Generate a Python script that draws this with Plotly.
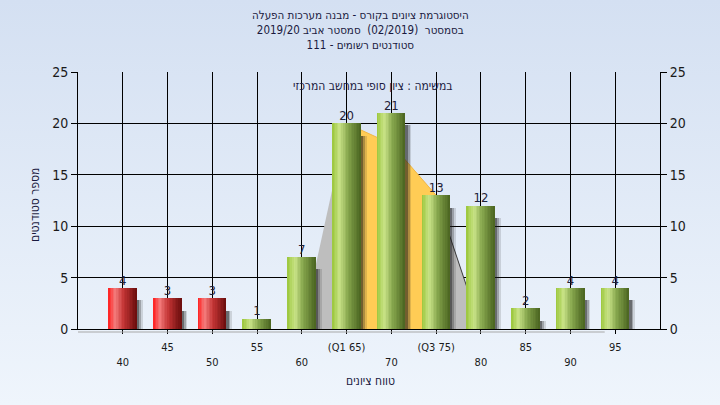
import base64
import plotly.graph_objects as go

# ---------------- data ----------------
categories = ["40", "45", "50", "55", "60", "65", "70", "75", "80", "85", "90", "95"]
counts = [4, 3, 3, 1, 7, 20, 21, 13, 12, 2, 4, 4]
tick_labels = ["40", "45", "50", "55", "60", "(Q1 65)", "70", "(Q3 75)", "80", "85", "90", "95"]
failing = [True, True, True, False, False, False, False, False, False, False, False, False]

# distribution curve drawn behind the bars
curve_x = ["60", "65", "70", "75", "80"]
curve_y = [0, 20, 18, 13, 0]
iqr_x = ["65", "70", "75"]
iqr_y = [20, 18, 13]
tail_x = ["75", "80"]
tail_y = [13, 0]

title_lines = ["היסטוגרמת ציונים בקורס - מבנה מערכות הפעלה",
               "בסמסטר  (02/2019)  סמסטר אביב 2019/20",
               "סטודנטים רשומים - 111"]
note_text = "במשימה : ציון סופי במחשב המרכזי"
x_title = "טווח ציונים"
y_title = "מספר סטודנטים"

FONT = "Liberation Sans Narrow, DejaVu Sans Condensed, Arial Narrow, sans-serif"

# ---------------- geometry of the canvas ----------------
W, H = 720, 405
ML, MR, MT, MB = 78, 60, 72, 76
PW, PH = W - ML - MR, H - MT - MB


def hex2rgb(h):
    h = h.lstrip("#")
    return tuple(int(h[i:i + 2], 16) for i in (0, 2, 4))


def interp(stops, t):
    for (t0, c0), (t1, c1) in zip(stops, stops[1:]):
        if t0 <= t <= t1:
            f = (t - t0) / (t1 - t0) if t1 > t0 else 0
            a, b = hex2rgb(c0), hex2rgb(c1)
            return "rgb(%d,%d,%d)" % tuple(round(a[k] + (b[k] - a[k]) * f) for k in range(3))
    return stops[-1][1]


green_stops = [(0.0, "#9AC63A"), (0.27, "#C9E388"), (0.55, "#88A84E"), (1.0, "#4A6420")]
red_stops = [(0.0, "#FF1C1C"), (0.24, "#F47A7A"), (0.55, "#C23434"), (1.0, "#6A0D0D")]

fig = go.Figure()

# distribution area (base subplot, under the bars)
fig.add_trace(go.Scatter(x=curve_x, y=curve_y, mode="lines", fill="tozeroy",
                         fillcolor="#BEBEBE", line=dict(width=0), hoverinfo="skip",
                         showlegend=False))
fig.add_trace(go.Scatter(x=iqr_x, y=iqr_y, mode="lines", fill="tozeroy",
                         fillcolor="#FFCC55", line=dict(width=1, color="#F2B845"),
                         hoverinfo="skip", showlegend=False))
fig.add_trace(go.Scatter(x=tail_x, y=tail_y, mode="lines",
                         line=dict(width=1, color="#3A3A3A"), hoverinfo="skip",
                         showlegend=False))
# invisible trace for the right-hand axis
fig.add_trace(go.Scatter(x=categories[:1], y=[0], yaxis="y2", mode="markers",
                         marker=dict(opacity=0), hoverinfo="skip", showlegend=False))

BW = 0.63
# soft shadows (overlay subplot)
for shift, alpha in [(0.13, 0.14), (0.09, 0.25), (0.05, 0.40)]:
    fig.add_trace(go.Bar(x=categories, y=[v - 0.2 for v in counts], base=-1,
                         width=BW, offset=-BW / 2 + shift,
                         xaxis="x2", yaxis="y3",
                         marker=dict(color="rgba(25,25,25,%.2f)" % alpha, line=dict(width=0)),
                         hoverinfo="skip", showlegend=False))

# cylinder-like bars built from thin vertical strips
N = 18
sw = BW / N
for i in range(N):
    t = (i + 0.5) / N
    cols = [interp(red_stops if f else green_stops, t) for f in failing]
    fig.add_trace(go.Bar(x=categories, y=counts, width=sw * 1.25 if i < N - 1 else sw,
                         offset=-BW / 2 + i * sw, xaxis="x2", yaxis="y3",
                         marker=dict(color=cols, line=dict(width=0)),
                         hoverinfo="skip", showlegend=False))

# value labels
fig.add_trace(go.Scatter(x=categories, y=counts, mode="text", text=[str(v) for v in counts],
                         textposition="top center", xaxis="x2", yaxis="y3",
                         textfont=dict(family=FONT, size=13, color="#1E2238"),
                         hoverinfo="skip", showlegend=False, cliponaxis=False))

# staggered tick labels
ticktext = [("<br>" + t) if k % 2 == 0 else t for k, t in enumerate(tick_labels)]

# background gradient as an svg image
svg = ('<svg xmlns="http://www.w3.org/2000/svg" width="720" height="405">'
       '<defs><linearGradient id="g" x1="0" y1="0" x2="0" y2="1">'
       '<stop offset="0" stop-color="#D4E0F2"/><stop offset="1" stop-color="#EFF5FC"/>'
       '</linearGradient></defs><rect width="720" height="405" fill="url(#g)"/></svg>')
svg_uri = "data:image/svg+xml;base64," + base64.b64encode(svg.encode()).decode()

axis_font = dict(family=FONT, size=14, color="#1A1A1A")
text_font = dict(family=FONT, size=12, color="#1A1A40")
title_font = dict(family=FONT, size=11.5, color="#1A1A40")


def ann(text, px, py, font, angle=0):
    return dict(text=text, xref="paper", yref="paper",
                x=(px - ML) / PW, y=(H - MB - py) / PH,
                xanchor="center", yanchor="middle",
                showarrow=False, textangle=angle, font=font)


annotations = [
    ann("<br>".join(title_lines), 360, 30.5, title_font),
    ann(note_text, 372, 86, text_font),
    ann(x_title, 370, 381, text_font),
    ann(y_title, 35, 205, text_font, angle=-90),
]

fig.update_layout(
    width=W, height=H,
    margin=dict(l=ML, r=MR, t=MT, b=MB),
    paper_bgcolor="#E2EBF7",
    plot_bgcolor="#B4B4B4",
    barmode="overlay",
    bargap=0,
    xaxis=dict(type="category", categoryorder="array", categoryarray=categories,
               range=[-1, 12], tickmode="array", tickvals=categories, ticktext=ticktext,
               showgrid=True, gridcolor="#000000", gridwidth=1,
               ticks="outside", ticklen=4, tickcolor="#000000", ticklabelstandoff=4,
               showline=True, linecolor="#000000", linewidth=1,
               tickfont=dict(family=FONT, size=11, color="#1A1A1A"),
               fixedrange=True),
    xaxis2=dict(type="category", categoryorder="array", categoryarray=categories,
                range=[-1, 12], overlaying="x", visible=False, fixedrange=True),
    yaxis=dict(range=[0, 25], dtick=5, showgrid=True, gridcolor="#000000", gridwidth=1,
               ticks="outside", ticklen=6, tickcolor="#000000",
               showline=True, linecolor="#000000", linewidth=1,
               tickfont=axis_font, zeroline=False, fixedrange=True),
    yaxis2=dict(range=[0, 25], dtick=5, overlaying="y", side="right", showgrid=False,
                ticks="outside", ticklen=6, tickcolor="#000000",
                showline=True, linecolor="#000000", linewidth=1,
                tickfont=axis_font, zeroline=False, fixedrange=True),
    yaxis3=dict(range=[0, 25], overlaying="y", visible=False, fixedrange=True),
    images=[dict(source=svg_uri, xref="paper", yref="paper",
                 x=-ML / PW, y=1 + MT / PH, sizex=W / PW, sizey=H / PH,
                 xanchor="left", yanchor="top", sizing="stretch", layer="below")],
    annotations=annotations,
    shapes=[dict(type="line", xref="paper", yref="paper", x0=0, x1=0.905,
                 y0=-3 / PH, y1=-3 / PH, line=dict(color="#A8A8A8", width=1))],
)

fig.write_html("out.html", config={"displayModeBar": False},
               post_script="document.body.style.margin='0';document.body.style.padding='0';")
